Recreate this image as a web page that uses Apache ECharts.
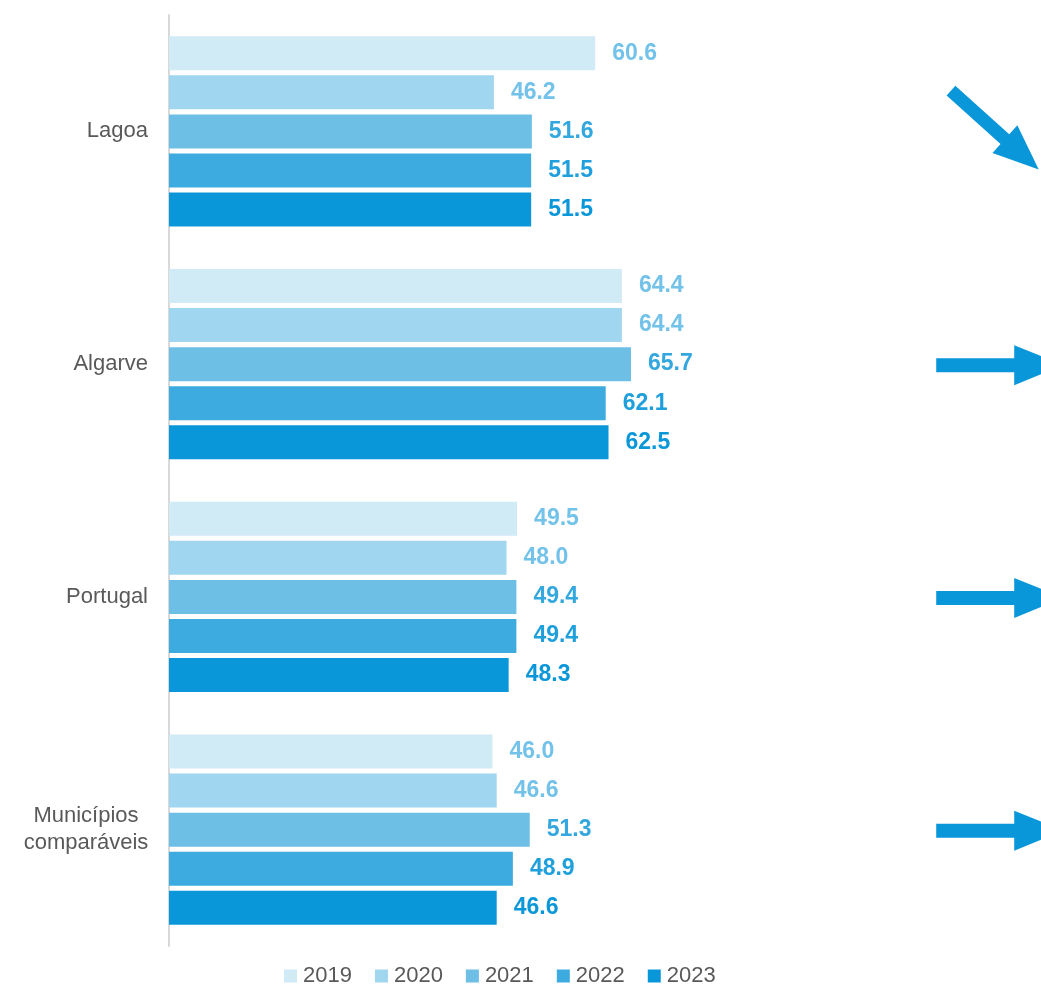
<!DOCTYPE html>
<html>
<head>
<meta charset="utf-8">
<script src="https://cdn.jsdelivr.net/npm/echarts@6/dist/echarts.min.js"></script>
<style>
  html, body { margin: 0; padding: 0; background: #fff; }
  #chart { width: 1041px; height: 984px; }
</style>
</head>
<body>
<div id="chart"></div>
<script>
// categorias (de cima para baixo)
var categories = ['Lagoa', 'Algarve', 'Portugal', 'Municípios\ncomparáveis'];
var years = ['2019', '2020', '2021', '2022', '2023'];

var v2019 = [60.6, 64.4, 49.5, 46.0];
var v2020 = [46.2, 64.4, 48.0, 46.6];
var v2021 = [51.6, 65.7, 49.4, 51.3];
var v2022 = [51.5, 62.1, 49.4, 48.9];
var v2023 = [51.5, 62.5, 48.3, 46.6];

// tendência de cada categoria (seta)
var trends = ['down', 'flat', 'flat', 'flat'];

var barColors = ['#d0eaf6', '#a0d6ef', '#6dbfe6', '#3dabe0', '#0a97d9'];
var labelColors = ['#72c2e9', '#72c2e9', '#33a7de', '#1fa0dc', '#0a97d9'];
var arrowColor = '#0a97d9';
var arrowX = 118.2;

var seriesValues = [v2019, v2020, v2021, v2022, v2023];
var fontFam = '"Liberation Sans", Arial, sans-serif';

var myChart = echarts.init(document.getElementById('chart'));

var series = years.map(function (y, i) {
    return {
        name: y,
        type: 'bar',
        barWidth: 34,
        barGap: '15%',
        itemStyle: {color: barColors[i]},
        label: {
            show: true,
            position: 'right',
            distance: 17,
            color: labelColors[i],
            fontWeight: 'bold',
            fontSize: 23,
            fontFamily: fontFam,
            formatter: function (p) { return p.value.toFixed(1); }
        },
        data: seriesValues[i]
    };
});

// setas
series.push({
    type: 'custom',
    name: 'trend',
    silent: true,
    clip: false,
    data: trends.map(function (t, i) { return [arrowX, i, t === 'down' ? 1 : 0]; }),
    renderItem: function (params, api) {
        var c = api.coord([api.value(0), api.value(1)]);
        var down = api.value(2) === 1;
        var pts = [[-64, -7], [14, -7], [14, -20], [63, 0], [14, 20], [14, 7], [-64, 7]];
        return {
            type: 'polygon',
            x: c[0] + (down ? -5 : 0),
            y: c[1] + (down ? -1 : 1),
            rotation: down ? -42 * Math.PI / 180 : 0,
            scaleX: down ? 0.93 : 1,
            scaleY: down ? 0.93 : 1,
            shape: {points: pts},
            style: {fill: arrowColor}
        };
    }
});

var option = {
    animation: false,
    grid: {left: 169, right: 0, top: 15, bottom: 38},
    legend: {
        data: years,
        top: 960,
        left: 279,
        itemWidth: 13,
        itemHeight: 13,
        itemGap: 23,
        icon: 'rect',
        textStyle: {fontSize: 22, color: '#595959', fontFamily: fontFam, padding: [0, 0, 0, 1]}
    },
    xAxis: {
        type: 'value',
        min: 0,
        max: 124,
        show: false
    },
    yAxis: {
        type: 'category',
        inverse: true,
        data: categories,
        axisLine: {show: true, lineStyle: {color: '#d9d9d9', width: 2}},
        axisTick: {show: false},
        axisLabel: {
            fontSize: 22,
            color: '#595959',
            fontFamily: fontFam,
            margin: 21,
            lineHeight: 27,
            formatter: function (v) {
                if (v.indexOf('\n') < 0) return v;
                return v.split('\n').map(function (s) { return '{c|' + s + '}'; }).join('\n');
            },
            rich: {
                c: {width: 124, align: 'center', fontSize: 22, lineHeight: 27, color: '#595959', fontFamily: fontFam}
            }
        }
    },
    series: series
};

myChart.setOption(option);
</script>
</body>
</html>
